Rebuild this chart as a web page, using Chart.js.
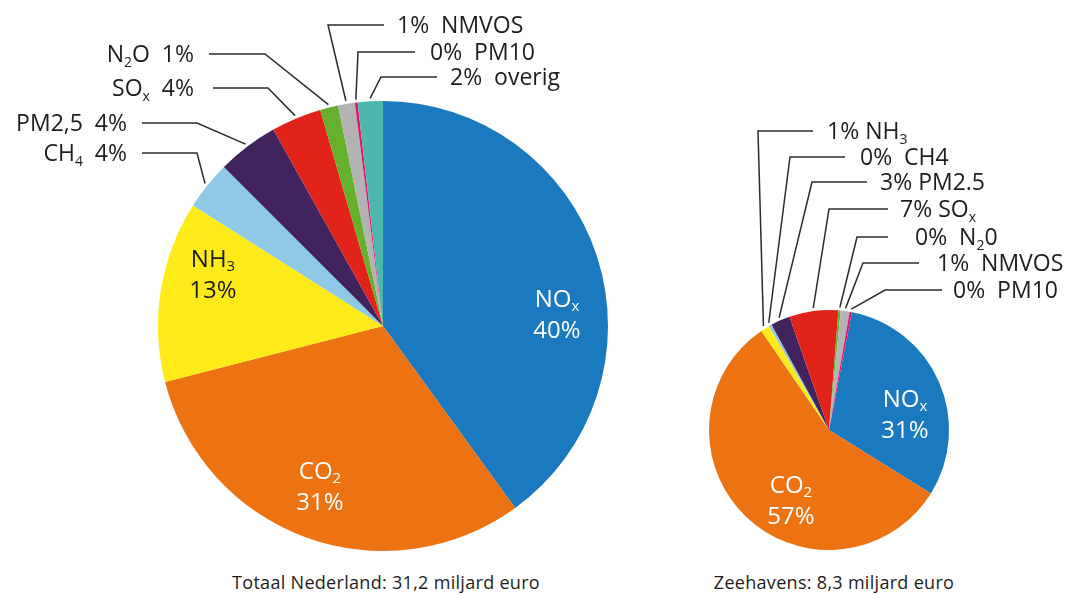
<!DOCTYPE html>
<html lang="nl">
<head>
<meta charset="utf-8">
<title>Schadekosten emissies</title>
<script src="https://cdn.jsdelivr.net/npm/chart.js@4.4.1/dist/chart.umd.min.js"></script>
<style>
  html, body { margin: 0; padding: 0; background: #fff; }
  #wrap { position: relative; width: 1069px; height: 594px; overflow: hidden; font-family: 'Open Sans', sans-serif; }
  #wrap canvas { position: absolute; top: 0; }
  #pie-nl { left: 0; width: 640px; height: 560px; }
  #pie-zh { left: 640px; width: 429px; height: 560px; }
  .caption { position: absolute; top: 570px; font-size: 18px; letter-spacing: 0.3px; line-height: 24px; color: #1d1d1b; white-space: nowrap; transform: translateX(-50%); }
</style>
</head>
<body>
<div id="wrap">
  <canvas id="pie-nl" width="640" height="560"></canvas>
  <canvas id="pie-zh" width="429" height="560"></canvas>
  <div class="caption" style="left:386px">Totaal Nederland: 31,2 miljard euro</div>
  <div class="caption" style="left:834px">Zeehavens: 8,3 miljard euro</div>
</div>
<script>
// kleur per stof, zelfde volgorde in beide taarten
var kleuren = ['#1b79bf', '#ec7212', '#ffea1a', '#8fc9e8', '#41245e', '#e2231a', '#65b12e', '#b3b3b3', '#e0166c', '#4cb8ab'];

// Totaal Nederland (aandeel in %), {..} = subscript
var nlNamen = ['NO{x}', 'CO{2}', 'NH{3}', 'CH{4}', 'PM2,5', 'SO{x}', 'N{2}O', 'NMVOS', 'PM10', 'overig'];
var nlAandeel = [40.0, 31.0, 13.0, 3.5, 4.4, 3.6, 1.3, 1.2, 0.2, 1.8];

// Zeehavens (aandeel in %)
var zhNamen = ['NO{x}', 'CO{2}', 'NH{3}', 'CH4', 'PM2.5', 'SO{x}', 'N{2}0', 'NMVOS', 'PM10'];
var zhAandeel = [30.8, 56.6, 1.2, 0.4, 2.6, 6.6, 0.3, 1.2, 0.3];

var FONT = '"Open Sans", sans-serif';
var TEKST = '#1d1d1b';

function pct(v) { return Math.round(v) + '%'; }

// 'N{2}O' -> [['N',false],['2',true],['O',false]]
function delen(str) {
  var out = [], re = /([^{]+)|\{([^}]*)\}/g, m;
  while ((m = re.exec(str))) {
    if (m[1]) out.push([m[1], false]); else out.push([m[2], true]);
  }
  return out;
}

// tekst met subscripts; y = midden van de hoofdletters
function tekenRijk(ctx, str, x, y, align, size, color) {
  var parts = delen(str);
  var big = size + 'px ' + FONT, small = Math.round(size * 0.62) + 'px ' + FONT;
  var w = 0;
  parts.forEach(function (p) { ctx.font = p[1] ? small : big; w += ctx.measureText(p[0]).width; });
  var cx = align === 'right' ? x - w : align === 'center' ? x - w / 2 : x;
  var base = y + size * 0.36;
  ctx.fillStyle = color;
  ctx.textAlign = 'left';
  ctx.textBaseline = 'alphabetic';
  parts.forEach(function (p) {
    ctx.font = p[1] ? small : big;
    ctx.fillText(p[0], cx, p[1] ? base + size * 0.2 : base);
    cx += ctx.measureText(p[0]).width;
  });
}

// punt net buiten de rand, midden van het taartpunt
function randPunt(arc) {
  var p = arc.getProps(['x', 'y', 'startAngle', 'endAngle', 'outerRadius'], true);
  var mid = (p.startAngle + p.endAngle) / 2, r = p.outerRadius + 3;
  return { x: p.x + r * Math.cos(mid), y: p.y + r * Math.sin(mid) };
}

var labelPlugin = {
  id: 'taartLabels',
  afterDraw: function (chart) {
    var ctx = chart.ctx, cfg = chart.options.plugins.taartLabels;
    var namen = cfg.namen, data = chart.data.datasets[0].data;
    var arcs = chart.getDatasetMeta(0).data;
    ctx.save();

    cfg.binnen.forEach(function (l) {
      tekenRijk(ctx, namen[l.i], l.x, l.y, 'center', 24, l.kleur);
      tekenRijk(ctx, pct(data[l.i]), l.x, l.y + 31, 'center', 24, l.kleur);
    });

    cfg.buiten.forEach(function (l) {
      var rp = randPunt(arcs[l.i]);
      ctx.beginPath();
      ctx.strokeStyle = '#2b2b2b';
      ctx.lineWidth = 1.5;
      if (l.links) {
        ctx.moveTo(l.x0, l.ty); ctx.lineTo(l.x1, l.ty);
      } else {
        ctx.moveTo(l.x1, l.ty); ctx.lineTo(l.x0, l.ty);
      }
      ctx.lineTo(rp.x, rp.y);
      ctx.stroke();
      var txt = l.links ? namen[l.i] + l.sep + pct(data[l.i]) : pct(data[l.i]) + l.sep + namen[l.i];
      tekenRijk(ctx, txt, l.tx, l.ty, l.links ? 'right' : 'left', 23, TEKST);
    });
    ctx.restore();
  }
};

function maakTaart(id, namen, aandeel, rotation, padding, labels) {
  return new Chart(document.getElementById(id), {
    type: 'pie',
    data: {
      labels: namen,
      datasets: [{ data: aandeel, backgroundColor: kleuren.slice(0, aandeel.length), borderWidth: 0 }]
    },
    options: {
      responsive: false,
      animation: false,
      events: [],
      rotation: rotation,
      layout: { padding: padding },
      plugins: {
        legend: { display: false },
        tooltip: { enabled: false },
        taartLabels: { namen: namen, binnen: labels.binnen, buiten: labels.buiten }
      }
    },
    plugins: [labelPlugin]
  });
}

maakTaart('pie-nl', nlNamen, nlAandeel, 0,
  { left: 158, top: 101, right: 32, bottom: 9 },
  {
    binnen: [
      { i: 0, x: 557, y: 298, kleur: '#ffffff' },
      { i: 1, x: 320, y: 470, kleur: '#ffffff' },
      { i: 2, x: 213, y: 258, kleur: '#1d1d1b' }
    ],
    buiten: [
      { i: 6, links: true, tx: 194, ty: 54, x0: 209, x1: 265, sep: '  ' },
      { i: 5, links: true, tx: 194, ty: 88, x0: 213, x1: 268, sep: '  ' },
      { i: 4, links: true, tx: 127, ty: 123, x0: 142, x1: 197, sep: '  ' },
      { i: 3, links: true, tx: 127, ty: 153, x0: 142, x1: 197, sep: '  ' },
      { i: 7, links: false, tx: 397, ty: 25, x0: 328, x1: 384, sep: '  ' },
      { i: 8, links: false, tx: 430, ty: 52, x0: 358, x1: 415, sep: '  ' },
      { i: 9, links: false, tx: 450, ty: 77, x0: 381, x1: 437, sep: '  ' }
    ]
  });

maakTaart('pie-zh', zhNamen, zhAandeel, 11,
  { left: 69, top: 310, right: 120, bottom: 10 },
  {
    binnen: [
      { i: 0, x: 265, y: 398, kleur: '#ffffff' },
      { i: 1, x: 151, y: 484, kleur: '#ffffff' }
    ],
    buiten: [
      { i: 2, links: false, tx: 187, ty: 131, x0: 118, x1: 173, sep: ' ' },
      { i: 3, links: false, tx: 220, ty: 157, x0: 150, x1: 205, sep: '  ' },
      { i: 4, links: false, tx: 240, ty: 182, x0: 172, x1: 227, sep: ' ' },
      { i: 5, links: false, tx: 260, ty: 209, x0: 189, x1: 248, sep: ' ' },
      { i: 6, links: false, tx: 275, ty: 237, x0: 217, x1: 248, sep: '  ' },
      { i: 7, links: false, tx: 297, ty: 263, x0: 223, x1: 279, sep: '  ' },
      { i: 8, links: false, tx: 313, ty: 290, x0: 245, x1: 302, sep: '  ' }
    ]
  });
</script>
</body>
</html>
